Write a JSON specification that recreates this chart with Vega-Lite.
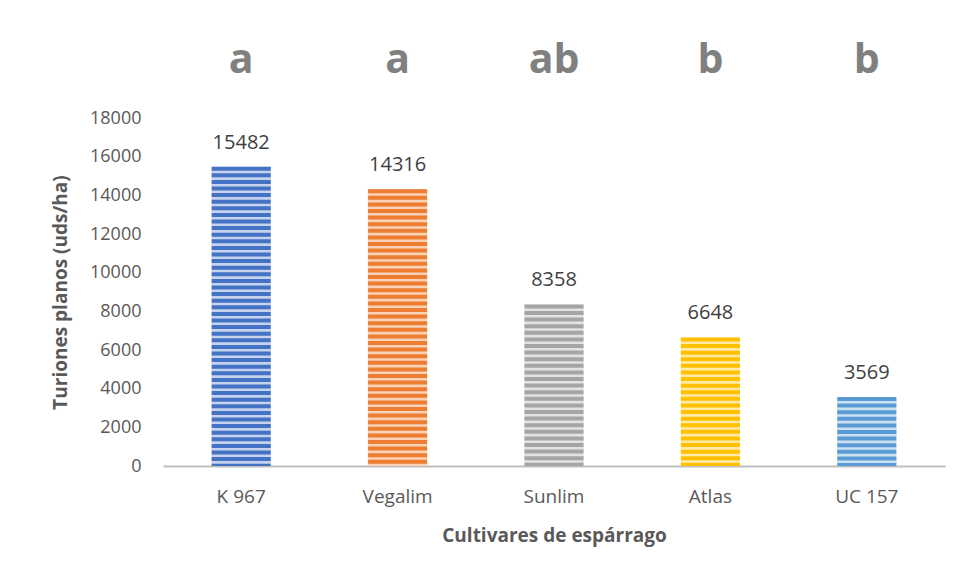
{
  "$schema": "https://vega.github.io/schema/vega-lite/v6.json",
  "width": 782,
  "height": 348,
  "autosize": {"type": "none"},
  "padding": {"left": 163, "top": 118, "right": 15, "bottom": 112},
  "background": "white",
  "config": {"view": {"stroke": null}, "font": "Open Sans"},
  "data": {"values": [
    {"cultivar": "K 967", "valor": 15482, "letra": "a", "base": "#4472C4", "claro": "#C5D3EE"},
    {"cultivar": "Vegalim", "valor": 14316, "letra": "a", "base": "#ED7D31", "claro": "#F9D2B8"},
    {"cultivar": "Sunlim", "valor": 8358, "letra": "ab", "base": "#A5A5A5", "claro": "#E2E2E2"},
    {"cultivar": "Atlas", "valor": 6648, "letra": "b", "base": "#FFC000", "claro": "#FFEAA8"},
    {"cultivar": "UC 157", "valor": 3569, "letra": "b", "base": "#5B9BD5", "claro": "#CBE0F3"}
  ]},
  "encoding": {
    "x": {
      "field": "cultivar", "type": "nominal", "sort": null,
      "scale": {"paddingInner": 0.62, "paddingOuter": 0.31},
      "axis": {
        "title": "Cultivares de espárrago", "labelAngle": 0, "labelFontSize": 19,
        "labelColor": "#595959", "labelPadding": 21, "ticks": false,
        "domainColor": "#BFBFBF", "domainWidth": 2,
        "titleFontSize": 19, "titleFontWeight": "bold", "titleColor": "#595959", "titlePadding": 20
      }
    },
    "y": {
      "field": "valor", "type": "quantitative",
      "scale": {"domain": [0, 18000]},
      "axis": {
        "title": "Turiones planos (uds/ha)", "values": [0,2000,4000,6000,8000,10000,12000,14000,16000,18000],
        "format": "d", "grid": false, "domain": false, "ticks": false,
        "labelFontSize": 18, "labelColor": "#595959", "labelPadding": 22,
        "titleFontSize": 19, "titleFontWeight": "bold", "titleColor": "#595959", "titlePadding": 19
      }
    }
  },
  "layer": [
    {"mark": {"type": "bar"}, "encoding": {"color": {"field": "claro", "type": "nominal", "scale": null}}},
    {"mark": {"type": "rule", "strokeWidth": 59, "strokeCap": "butt", "strokeDash": [4, 2.6]},
     "encoding": {"y2": {"datum": 0}, "color": {"field": "base", "type": "nominal", "scale": null}}},
    {"mark": {"type": "text", "baseline": "alphabetic", "dy": -18, "fontSize": 20, "color": "#404040"},
     "encoding": {"text": {"field": "valor", "type": "quantitative", "format": "d"}}},
    {"mark": {"type": "text", "baseline": "alphabetic", "dy": 13, "fontSize": 41, "fontWeight": "bold", "color": "#808080"},
     "encoding": {"y": {"datum": 21000}, "text": {"field": "letra", "type": "nominal"}}}
  ]
}
